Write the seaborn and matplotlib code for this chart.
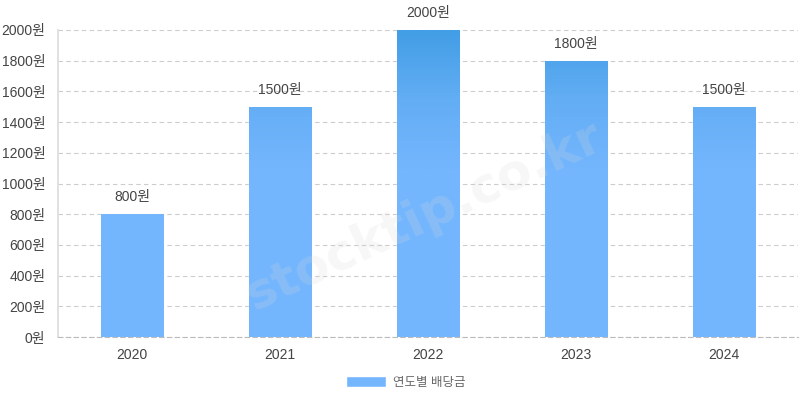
import numpy as np
import pandas as pd
import matplotlib
matplotlib.use("Agg")
import matplotlib.pyplot as plt
from matplotlib.colors import LinearSegmentedColormap
import seaborn as sns

years = ["2020", "2021", "2022", "2023", "2024"]
dividends = [800, 1500, 2000, 1800, 1500]
yticks = [0, 200, 400, 600, 800, 1000, 1200, 1400, 1600, 1800, 2000]
series_name = "연도별 배당금"

df = pd.DataFrame({"year": years, "dividend": dividends})

sns.set_theme(style="white")
plt.rcParams["font.family"] = ["Liberation Sans", "Noto Sans CJK KR", "DejaVu Sans"]

fig = plt.figure(figsize=(8, 4), dpi=100)
ax = fig.add_axes([0.0725, 0.1575, 0.925, 0.7675])

sns.barplot(data=df, x="year", y="dividend", color="#74b6fe", width=0.42,
            saturation=1, ax=ax, zorder=2, label=series_name)

ax.set_ylim(0, 2000)
ax.set_xlim(-0.5, len(years) - 0.5)
ax.set_yticks(yticks)
ax.set_yticklabels([f"{v}원" for v in yticks])
ax.set_xlabel("")
ax.set_ylabel("")

# gradient fill in data space: darker blue toward the top of the scale
cmap = LinearSegmentedColormap.from_list(
    "grad", [(0, "#74b6fe"), (0.55, "#74b6fe"), (0.78, "#62adf4"), (1, "#429ee5")])
grad = np.linspace(0, 1, 256).reshape(-1, 1)
for p in ax.patches:
    x0, w = p.get_x(), p.get_width()
    im = ax.imshow(grad, cmap=cmap, aspect="auto", origin="lower",
                   extent=[x0, x0 + w, 0, 2000], zorder=2.1)
    im.set_clip_path(p)

for i, v in enumerate(dividends):
    ax.text(i, v + 65, f"{v}원", ha="center", va="bottom",
            fontsize=10, color="#444444", zorder=4)

ax.yaxis.grid(True, linestyle=(0, (4, 3)), color="#cccccc", linewidth=0.8)
ax.set_axisbelow(True)
for s in ["top", "right"]:
    ax.spines[s].set_visible(False)
ax.spines["left"].set_color("#dddddd")
ax.spines["bottom"].set_color("#bbbbbb")
ax.spines["bottom"].set_linewidth(0.8)
ax.spines["bottom"].set_linestyle((0, (4, 3)))
ax.tick_params(axis="y", length=8, color="#cccccc", labelsize=10,
               labelcolor="#444444", pad=1)
ax.tick_params(axis="x", length=0, labelsize=10, labelcolor="#444444", pad=8)

fig.text(0.53, 0.46, "stocktip.co.kr", rotation=25, ha="center", va="center",
         fontsize=36, fontweight="bold", family="DejaVu Sans",
         color="#d8d8d8", alpha=0.2, zorder=10)

ax.legend(loc="upper center", bbox_to_anchor=(0.47, -0.09), frameon=False,
          fontsize=9, handlelength=3.2, handleheight=1.0, handletextpad=0.5,
          labelcolor="#666666")

fig.savefig("out.png", dpi=100, facecolor="white")
